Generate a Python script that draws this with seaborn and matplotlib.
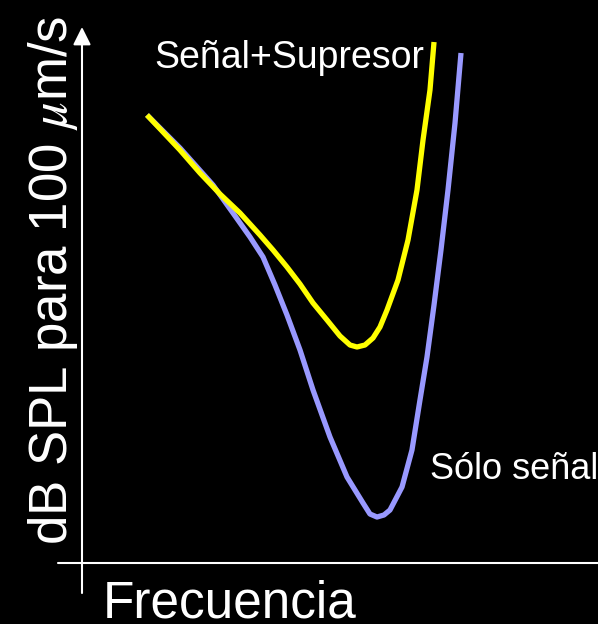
import matplotlib
matplotlib.use("Agg")
import matplotlib.pyplot as plt
import seaborn as sns

# Frequency (arbitrary units) and level (dB SPL)
freq_signal = [1.260, 1.899, 2.539, 2.926, 3.256, 3.508, 3.740, 3.973, 4.225,
               4.477, 4.806, 5.136, 5.446, 5.581, 5.717, 5.853, 5.969, 6.202,
               6.395, 6.550, 6.686, 6.822, 6.957, 7.093, 7.229, 7.345]
db_signal = [83.58, 77.43, 70.52, 65.30, 60.82, 57.09, 51.87, 46.27, 39.74,
             32.28, 23.51, 16.04, 11.19, 9.14, 8.58, 8.96, 9.89, 14.18,
             21.08, 30.41, 38.43, 48.13, 58.40, 69.59, 82.09, 95.15]

freq_supp = [1.260, 1.899, 2.287, 2.674, 3.062, 3.450, 3.702, 3.973, 4.225,
             4.477, 4.748, 5.000, 5.194, 5.329, 5.484, 5.640, 5.775, 5.911,
             6.124, 6.318, 6.492, 6.609, 6.744, 6.822]
db_supp = [83.58, 77.05, 72.76, 68.84, 65.30, 61.19, 58.40, 55.22, 52.05,
           48.51, 45.34, 42.35, 40.67, 40.30, 40.67, 41.98, 44.03, 47.20,
           52.80, 60.26, 69.59, 78.92, 88.25, 97.20]

label_signal = "Sólo señal"
label_supp = "Señal+Supresor"
xlabel = "Frecuencia"
ylabel = r"dB SPL para 100 $\mu$m/s"

sns.set_style("dark")
plt.rcParams["font.family"] = ["Liberation Sans", "DejaVu Sans"]
plt.rcParams["mathtext.fontset"] = "stix"

fig = plt.figure(figsize=(5.98, 6.24), dpi=100, facecolor="black")
ax = fig.add_axes([0, 0, 1, 1])
ax.set_facecolor("black")
ax.set_xlim(-1.589, 10.0)
ax.set_ylim(-11.38, 105.04)
ax.axis("off")

# curves
sns.lineplot(x=freq_signal, y=db_signal, sort=False, color="#9999ff",
             linewidth=3.8, solid_joinstyle="round", solid_capstyle="butt", ax=ax)
sns.lineplot(x=freq_supp, y=db_supp, sort=False, color="#ffff00",
             linewidth=3.8, solid_joinstyle="round", solid_capstyle="butt", ax=ax)

# axes with arrow on y
ax.axhline(0, xmin=58 / 598, xmax=1, color="white", lw=1.5)
ax.annotate("", xy=(0, 100), xytext=(0, -5.6),
            arrowprops=dict(arrowstyle="-|>", color="white", lw=1.5,
                            mutation_scale=27, shrinkA=0, shrinkB=0))

ax.text(1.41, 92.4, label_supp, color="white", fontsize=27, va="baseline")
ax.text(6.74, 15.7, label_signal, color="white", fontsize=26, va="baseline")

fig.text(103 / 598, 7 / 624, xlabel, color="white", fontsize=37,
         ha="left", va="baseline")
fig.text(80 / 598, (624 - 545) / 624, ylabel, color="white", fontsize=38,
         rotation=90, ha="right", va="bottom")

fig.savefig("out.png", dpi=100, facecolor="black")
